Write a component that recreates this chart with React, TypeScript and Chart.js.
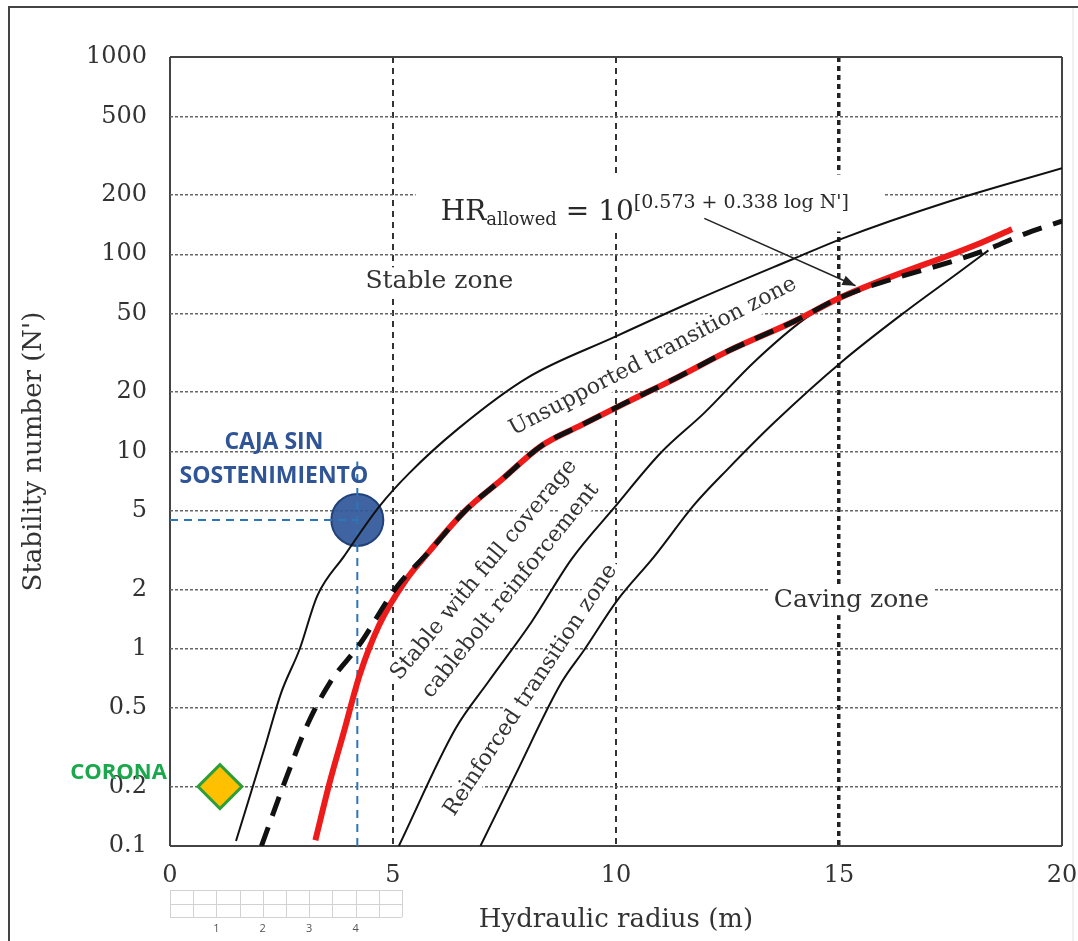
import React, { useEffect, useRef } from 'react';
import { Chart, registerables } from 'chart.js';

Chart.register(...registerables);

const SERIF = "'DejaVu Serif', 'Liberation Serif', serif";
const SANS = "'Open Sans', 'Noto Sans', 'DejaVu Sans', sans-serif";

// ---- axes ----
const xTickValues = [0, 5, 10, 15, 20];
const yTickValues = [0.1, 0.2, 0.5, 1, 2, 5, 10, 20, 50, 100, 200, 500, 1000];

// ---- curves (hydraulic radius m, stability number N') ----
// upper solid line: stable zone / unsupported transition zone
const stableLimitX = [1.48, 2.14, 2.49, 2.91, 3.3, 3.9, 4.69, 5.36, 6.47, 8.02, 9.96, 11.76, 14.01, 15.07, 17.43, 20];
const stableLimitY = [0.106, 0.324, 0.596, 1.0, 1.85, 2.94, 5.26, 7.75, 13.1, 23.7, 38.0, 58.1, 95.4, 120, 184, 273];

// thick dashed black line
const unsupportedLimitX = [2.05, 2.64, 3.08, 3.59, 4.25, 5.07, 5.8, 6.62, 7.44, 8.33, 9.22, 10.25, 11.37, 12.5, 14.01, 15.07, 18.19, 19.33, 20];
const unsupportedLimitY = [0.1, 0.232, 0.412, 0.676, 1.05, 2.04, 3.09, 5.01, 7.21, 10.7, 13.6, 17.8, 23.7, 32.2, 45.9, 60.9, 103, 131, 147];

// red line: HR allowed
const hrAllowedX = [3.26, 3.59, 3.9, 4.25, 4.69, 5.29, 5.8, 6.62, 7.44, 8.33, 9.22, 10.25, 11.37, 12.5, 14.01, 15.07, 18.19, 18.88];
const hrAllowedY = [0.107, 0.214, 0.38, 0.733, 1.32, 2.23, 3.09, 5.01, 7.21, 10.7, 13.6, 17.8, 23.7, 32.2, 45.9, 60.9, 114.5, 134];

// solid line: cablebolt reinforcement limit
const cableboltLimitX = [5.13, 6.4, 7.13, 8.11, 9.0, 9.96, 11.01, 11.98, 13.11, 14.23, 15.05];
const cableboltLimitY = [0.1, 0.393, 0.676, 1.37, 2.84, 5.19, 9.88, 15.7, 28.6, 47.0, 61];

// solid line: reinforced transition / caving
const cavingLimitX = [6.96, 7.73, 8.78, 9.29, 10.02, 10.86, 11.76, 12.5, 13.56, 15.07, 16.51, 17.66, 18.35];
const cavingLimitY = [0.1, 0.226, 0.676, 0.989, 1.75, 2.94, 5.39, 8.12, 14.1, 28.6, 51.6, 80.1, 104.6];

// ---- case points ----
const cajaX = 4.2;
const cajaY = 4.5;
const cajaGuideTopY = 8.9;
const coronaX = 1.12;
const coronaY = 0.2;

// ---- annotation texts ----
const zoneLabels = [
  { text: 'Stable zone', x: 6.04, y: 72.6, angle: 0, size: 25 },
  { text: 'Caving zone', x: 15.28, y: 1.75, angle: 0, size: 25 },
  { text: 'Unsupported transition zone', x: 10.83, y: 30.3, angle: 27.5, size: 22 },
  { text: 'Stable with full coverage', x: 7.04, y: 2.51, angle: 50.4, size: 22 },
  { text: 'cablebolt reinforcement', x: 7.64, y: 1.97, angle: 51.2, size: 22 },
  { text: 'Reinforced transition zone', x: 8.09, y: 0.617, angle: 56.6, size: 22 },
];
const formulaPos = { x: 6.07, y: 150 };
const arrowFrom = { x: 11.98, y: 152 };
const arrowTo = { x: 15.37, y: 69.3 };
const cajaLabels = [
  { text: 'CAJA SIN', x: 2.33, y: 11.1 },
  { text: 'SOSTENIMIENTO', x: 2.33, y: 7.5 },
];
const coronaLabel = { text: 'CORONA', x: -0.07, y: 0.234 };
const rulerLabels = ['1', '2', '3', '4'];

const pts = (xs: number[], ys: number[]) => xs.map((x, i) => ({ x, y: ys[i] }));

function drawLabelBox(ctx: CanvasRenderingContext2D, px: number, py: number, w: number, h: number, angle: number) {
  ctx.save();
  ctx.translate(px, py);
  ctx.rotate((-angle * Math.PI) / 180);
  ctx.fillStyle = '#ffffff';
  ctx.fillRect(-w / 2 - 4, -h / 2, w + 8, h);
  ctx.restore();
}

function formulaParts(ctx: CanvasRenderingContext2D) {
  const parts = [
    { t: 'HR', size: 28, dy: 0 },
    { t: 'allowed', size: 18, dy: 5 },
    { t: ' = 10', size: 28, dy: 0 },
    { t: "[0.573 + 0.338 log N']", size: 19, dy: -12 },
  ];
  let total = 0;
  const out = parts.map((p) => {
    ctx.font = `${p.size}px ${SERIF}`;
    const w = ctx.measureText(p.t).width;
    const r = { ...p, off: total, w };
    total += w;
    return r;
  });
  return { parts: out, total };
}

const decorPlugin = {
  id: 'decor',
  beforeDraw(chart: any) {
    const ctx = chart.ctx as CanvasRenderingContext2D;
    ctx.save();
    ctx.fillStyle = '#ffffff';
    ctx.fillRect(0, 0, chart.width, chart.height);
    ctx.strokeStyle = '#444';
    ctx.lineWidth = 2;
    ctx.beginPath();
    ctx.moveTo(9, chart.height);
    ctx.lineTo(9, 7);
    ctx.lineTo(chart.width, 7);
    ctx.stroke();
    ctx.strokeStyle = '#e2e2e2';
    ctx.lineWidth = 1;
    ctx.beginPath();
    ctx.moveTo(1073, 8);
    ctx.lineTo(1073, chart.height);
    ctx.stroke();
    ctx.restore();
  },
  beforeDatasetsDraw(chart: any) {
    const ctx = chart.ctx as CanvasRenderingContext2D;
    const xs = chart.scales.x;
    const ys = chart.scales.y;
    ctx.save();
    zoneLabels.forEach((l) => {
      ctx.font = `${l.size}px ${SERIF}`;
      const w = ctx.measureText(l.text).width;
      drawLabelBox(ctx, xs.getPixelForValue(l.x), ys.getPixelForValue(l.y), w, l.size * 1.15, l.angle);
    });
    const f = formulaParts(ctx);
    const fx = xs.getPixelForValue(formulaPos.x);
    const fy = ys.getPixelForValue(formulaPos.y);
    ctx.fillStyle = '#ffffff';
    ctx.fillRect(fx - 25, fy - 45, f.total + 60, 57);
    ctx.restore();
  },
  afterDatasetsDraw(chart: any) {
    const ctx = chart.ctx as CanvasRenderingContext2D;
    const xs = chart.scales.x;
    const ys = chart.scales.y;
    ctx.save();
    // zone labels
    ctx.fillStyle = '#333';
    ctx.textAlign = 'center';
    ctx.textBaseline = 'middle';
    zoneLabels.forEach((l) => {
      ctx.save();
      ctx.translate(xs.getPixelForValue(l.x), ys.getPixelForValue(l.y));
      ctx.rotate((-l.angle * Math.PI) / 180);
      ctx.font = `${l.size}px ${SERIF}`;
      ctx.fillText(l.text, 0, 0);
      ctx.restore();
    });
    // formula
    const f = formulaParts(ctx);
    const fx = xs.getPixelForValue(formulaPos.x);
    const fy = ys.getPixelForValue(formulaPos.y);
    ctx.textAlign = 'left';
    ctx.textBaseline = 'alphabetic';
    ctx.fillStyle = '#2a2a2a';
    f.parts.forEach((p) => {
      ctx.font = `${p.size}px ${SERIF}`;
      ctx.fillText(p.t, fx + p.off, fy + p.dy);
    });
    // arrow
    const ax1 = xs.getPixelForValue(arrowFrom.x);
    const ay1 = ys.getPixelForValue(arrowFrom.y);
    const ax2 = xs.getPixelForValue(arrowTo.x);
    const ay2 = ys.getPixelForValue(arrowTo.y);
    ctx.strokeStyle = '#222';
    ctx.lineWidth = 1.6;
    ctx.beginPath();
    ctx.moveTo(ax1, ay1);
    ctx.lineTo(ax2, ay2);
    ctx.stroke();
    const ang = Math.atan2(ay2 - ay1, ax2 - ax1);
    ctx.fillStyle = '#222';
    ctx.beginPath();
    ctx.moveTo(ax2, ay2);
    ctx.lineTo(ax2 - 13 * Math.cos(ang) + 5 * Math.sin(ang), ay2 - 13 * Math.sin(ang) - 5 * Math.cos(ang));
    ctx.lineTo(ax2 - 13 * Math.cos(ang) - 5 * Math.sin(ang), ay2 - 13 * Math.sin(ang) + 5 * Math.cos(ang));
    ctx.closePath();
    ctx.fill();
    // caja labels
    ctx.textAlign = 'center';
    ctx.textBaseline = 'middle';
    ctx.fillStyle = '#2F5597';
    ctx.font = `bold 23px ${SANS}`;
    cajaLabels.forEach((l) => ctx.fillText(l.text, xs.getPixelForValue(l.x), ys.getPixelForValue(l.y)));
    // corona label
    ctx.textAlign = 'right';
    ctx.fillStyle = '#19A84B';
    ctx.font = `bold 22px ${SANS}`;
    ctx.fillText(coronaLabel.text, xs.getPixelForValue(coronaLabel.x), ys.getPixelForValue(coronaLabel.y));
    ctx.restore();
  },
  afterDraw(chart: any) {
    const ctx = chart.ctx as CanvasRenderingContext2D;
    const xs = chart.scales.x;
    const base = chart.chartArea.bottom;
    const top = base + 44;
    const mid = base + 58;
    const bot = base + 71;
    const step = 0.52;
    ctx.save();
    ctx.strokeStyle = '#d2d2d2';
    ctx.lineWidth = 1;
    for (let i = 0; i <= 10; i++) {
      const px = Math.round(xs.getPixelForValue(i * step)) + 0.5;
      ctx.beginPath();
      ctx.moveTo(px, top);
      ctx.lineTo(px, bot);
      ctx.stroke();
    }
    [top, mid, bot].forEach((y) => {
      ctx.beginPath();
      ctx.moveTo(xs.getPixelForValue(0), y + 0.5);
      ctx.lineTo(xs.getPixelForValue(10 * step), y + 0.5);
      ctx.stroke();
    });
    ctx.fillStyle = '#555';
    ctx.font = `11px ${SANS}`;
    ctx.textAlign = 'center';
    ctx.textBaseline = 'middle';
    rulerLabels.forEach((t, i) => {
      ctx.fillText(t, xs.getPixelForValue((i + 1) * 2 * step), bot + 12);
    });
    ctx.restore();
  },
};

export default function App() {
  const canvasRef = useRef<HTMLCanvasElement | null>(null);

  useEffect(() => {
    if (!canvasRef.current) return;
    const lineBase = {
      pointRadius: 0,
      fill: false,
      cubicInterpolationMode: 'monotone' as const,
    };
    const chart = new Chart(canvasRef.current, {
      type: 'line',
      data: {
        datasets: [
          {
            label: 'Caja sin sostenimiento',
            data: [{ x: cajaX, y: cajaY }],
            showLine: false,
            pointRadius: 26,
            pointStyle: 'circle',
            pointBackgroundColor: 'rgba(50,88,155,0.93)',
            pointBorderColor: '#21417a',
            pointBorderWidth: 2,
            order: 6,
          },
          {
            label: 'guide h',
            data: [{ x: 0, y: cajaY }, { x: cajaX, y: cajaY }],
            borderColor: '#2E75B6',
            borderWidth: 2,
            borderDash: [8, 6],
            pointRadius: 0,
            tension: 0,
            order: 5,
          },
          {
            label: 'guide v',
            data: [{ x: cajaX, y: 0.1 }, { x: cajaX, y: cajaGuideTopY }],
            borderColor: '#2E75B6',
            borderWidth: 2,
            borderDash: [8, 6],
            pointRadius: 0,
            tension: 0,
            order: 5,
          },
          {
            ...lineBase,
            label: 'Stable limit',
            data: pts(stableLimitX, stableLimitY),
            borderColor: '#111',
            borderWidth: 2,
            order: 4,
          },
          {
            ...lineBase,
            label: 'Cablebolt limit',
            data: pts(cableboltLimitX, cableboltLimitY),
            borderColor: '#111',
            borderWidth: 2,
            order: 4,
          },
          {
            ...lineBase,
            label: 'Caving limit',
            data: pts(cavingLimitX, cavingLimitY),
            borderColor: '#111',
            borderWidth: 2,
            order: 4,
          },
          {
            ...lineBase,
            label: 'HR allowed',
            data: pts(hrAllowedX, hrAllowedY),
            borderColor: '#EE1B1B',
            borderWidth: 6,
            order: 3,
          },
          {
            ...lineBase,
            label: 'Unsupported limit',
            data: pts(unsupportedLimitX, unsupportedLimitY),
            borderColor: '#111',
            borderWidth: 5,
            borderDash: [20, 12],
            order: 2,
          },
          {
            label: 'Corona',
            data: [{ x: coronaX, y: coronaY }],
            showLine: false,
            pointRadius: 22,
            pointStyle: 'rectRot',
            pointBackgroundColor: '#FFC000',
            pointBorderColor: '#2E9E3A',
            pointBorderWidth: 3,
            order: 1,
          },
        ],
      },
      options: {
        responsive: false,
        animation: false,
        devicePixelRatio: 1,
        events: [],
        layout: { autoPadding: false, padding: { left: 0, right: 16, top: 57, bottom: 0 } },
        plugins: {
          legend: { display: false },
          tooltip: { enabled: false },
        },
        scales: {
          x: {
            type: 'linear',
            min: 0,
            max: 20,
            afterBuildTicks: (s: any) => {
              s.ticks = xTickValues.map((v) => ({ value: v }));
            },
            afterFit: (s: any) => {
              s.height = 95;
              s.paddingLeft = 0;
              s.paddingRight = 0;
            },
            ticks: {
              padding: 15,
              autoSkip: false,
              maxRotation: 0,
              color: '#333',
              font: { family: SERIF, size: 24 },
              callback: (v: any) => String(v),
            },
            grid: {
              drawTicks: false,
              color: (c: any) => {
                const v = c.tick ? c.tick.value : null;
                if (v === 0 || v === 20) return '#444';
                if (v === 15) return '#222';
                return '#333';
              },
              lineWidth: (c: any) => {
                const v = c.tick ? c.tick.value : null;
                if (v === 0 || v === 20) return 2;
                if (v === 15) return 3.5;
                return 2;
              },
            },
            border: {
              display: false,
              dash: (c: any) => {
                const v = c.tick ? c.tick.value : null;
                if (v === 0 || v === 20 || v === null) return [];
                if (v === 15) return [5, 4];
                return [6, 5];
              },
            },
            title: {
              display: true,
              text: 'Hydraulic radius (m)',
              color: '#333',
              font: { family: SERIF, size: 26 },
              padding: { top: 0, bottom: 5 },
            },
          },
          y: {
            type: 'logarithmic',
            min: 0.1,
            max: 1000,
            afterBuildTicks: (s: any) => {
              s.ticks = yTickValues.map((v) => ({ value: v }));
            },
            afterFit: (s: any) => {
              s.width = 170;
            },
            ticks: {
              padding: 23,
              autoSkip: false,
              color: '#333',
              font: { family: SERIF, size: 24 },
              callback: (v: any) => String(v),
            },
            grid: {
              drawTicks: false,
              color: (c: any) => {
                const v = c.tick ? c.tick.value : null;
                if (v === 0.1 || v === 1000) return '#444';
                return '#666';
              },
              lineWidth: (c: any) => {
                const v = c.tick ? c.tick.value : null;
                if (v === 0.1 || v === 1000) return 2;
                return 1.5;
              },
            },
            border: {
              display: false,
              dash: (c: any) => {
                const v = c.tick ? c.tick.value : null;
                if (v === 0.1 || v === 1000 || v === null) return [];
                return [3, 2];
              },
            },
            title: {
              display: true,
              text: "Stability number (N')",
              color: '#333',
              font: { family: SERIF, size: 26 },
              padding: { top: 19, bottom: 0 },
            },
          },
        },
      } as any,
      plugins: [decorPlugin],
    });
    return () => chart.destroy();
  }, []);

  return (
    <div style={{ position: 'absolute', left: 0, top: 0, width: 1078, height: 941, background: '#fff' }}>
      <canvas ref={canvasRef} width={1078} height={941} style={{ display: 'block' }} />
    </div>
  );
}
